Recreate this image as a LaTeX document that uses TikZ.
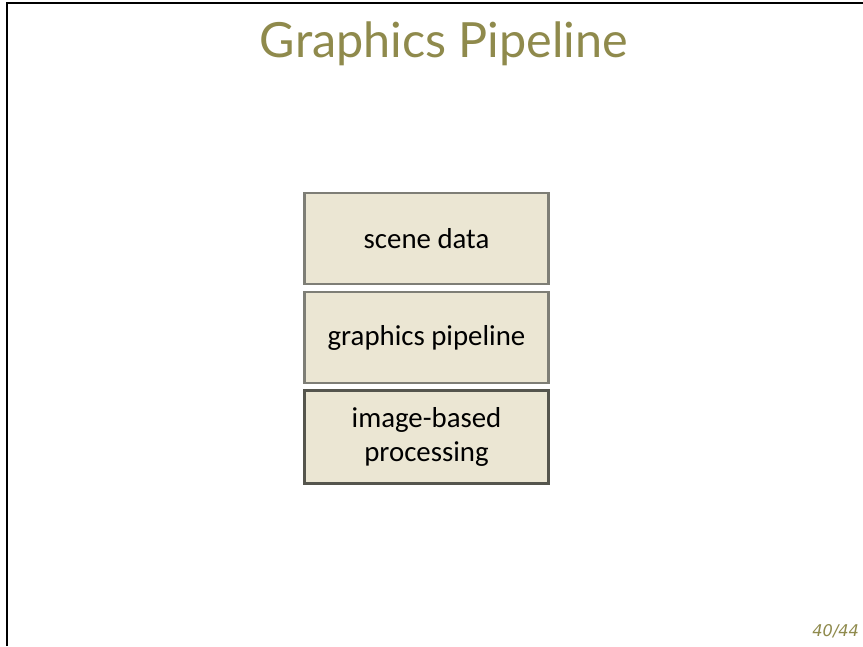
\documentclass[tikz,border=0pt]{standalone}
\usepackage{fontspec}
\setmainfont{Carlito}
\newfontfamily\titlefont{Lato}
\newfontfamily\pagefont{DejaVu Sans}
\definecolor{olive}{HTML}{8F8A4C}
\definecolor{boxfill}{HTML}{EBE6D3}
\definecolor{boxline}{HTML}{7E7E76}
\definecolor{boxdark}{HTML}{55554D}
\tikzset{
  stage/.style={draw=boxline, line width=1.6pt, fill=boxfill, minimum width=6.1cm,
    minimum height=2.28cm, align=center, font=\fontsize{20.5}{24.5}\selectfont, text=black},
  laststage/.style={stage, draw=boxdark, line width=2.1pt, minimum height=2.33cm},
}
\begin{document}
\begin{tikzpicture}[x=0.025cm,y=-0.025cm]
 \useasboundingbox[fill=white] (0,0) rectangle (863,646);
 % frame
 \draw[line width=1.2pt] (7,646)--(7,3)--(863,3);
 % title
 \node[font=\titlefont\fontsize{34.5}{40}\selectfont, text=olive] (title) at (444,44) {Graphics Pipeline};
 % stages
 \node[stage] (scene) at (426.5,238.5) {scene data};
 \node[stage] (pipe) at (426.5,337.5) {graphics pipeline};
 \node[laststage] (imgproc) at (426.5,437) {image-based\\processing};
 % page number
 \node[font=\pagefont\itshape\fontsize{11.5}{13}\selectfont, text=olive, anchor=east] (pagenum) at (864,631) {40/44};
\end{tikzpicture}
\end{document}
